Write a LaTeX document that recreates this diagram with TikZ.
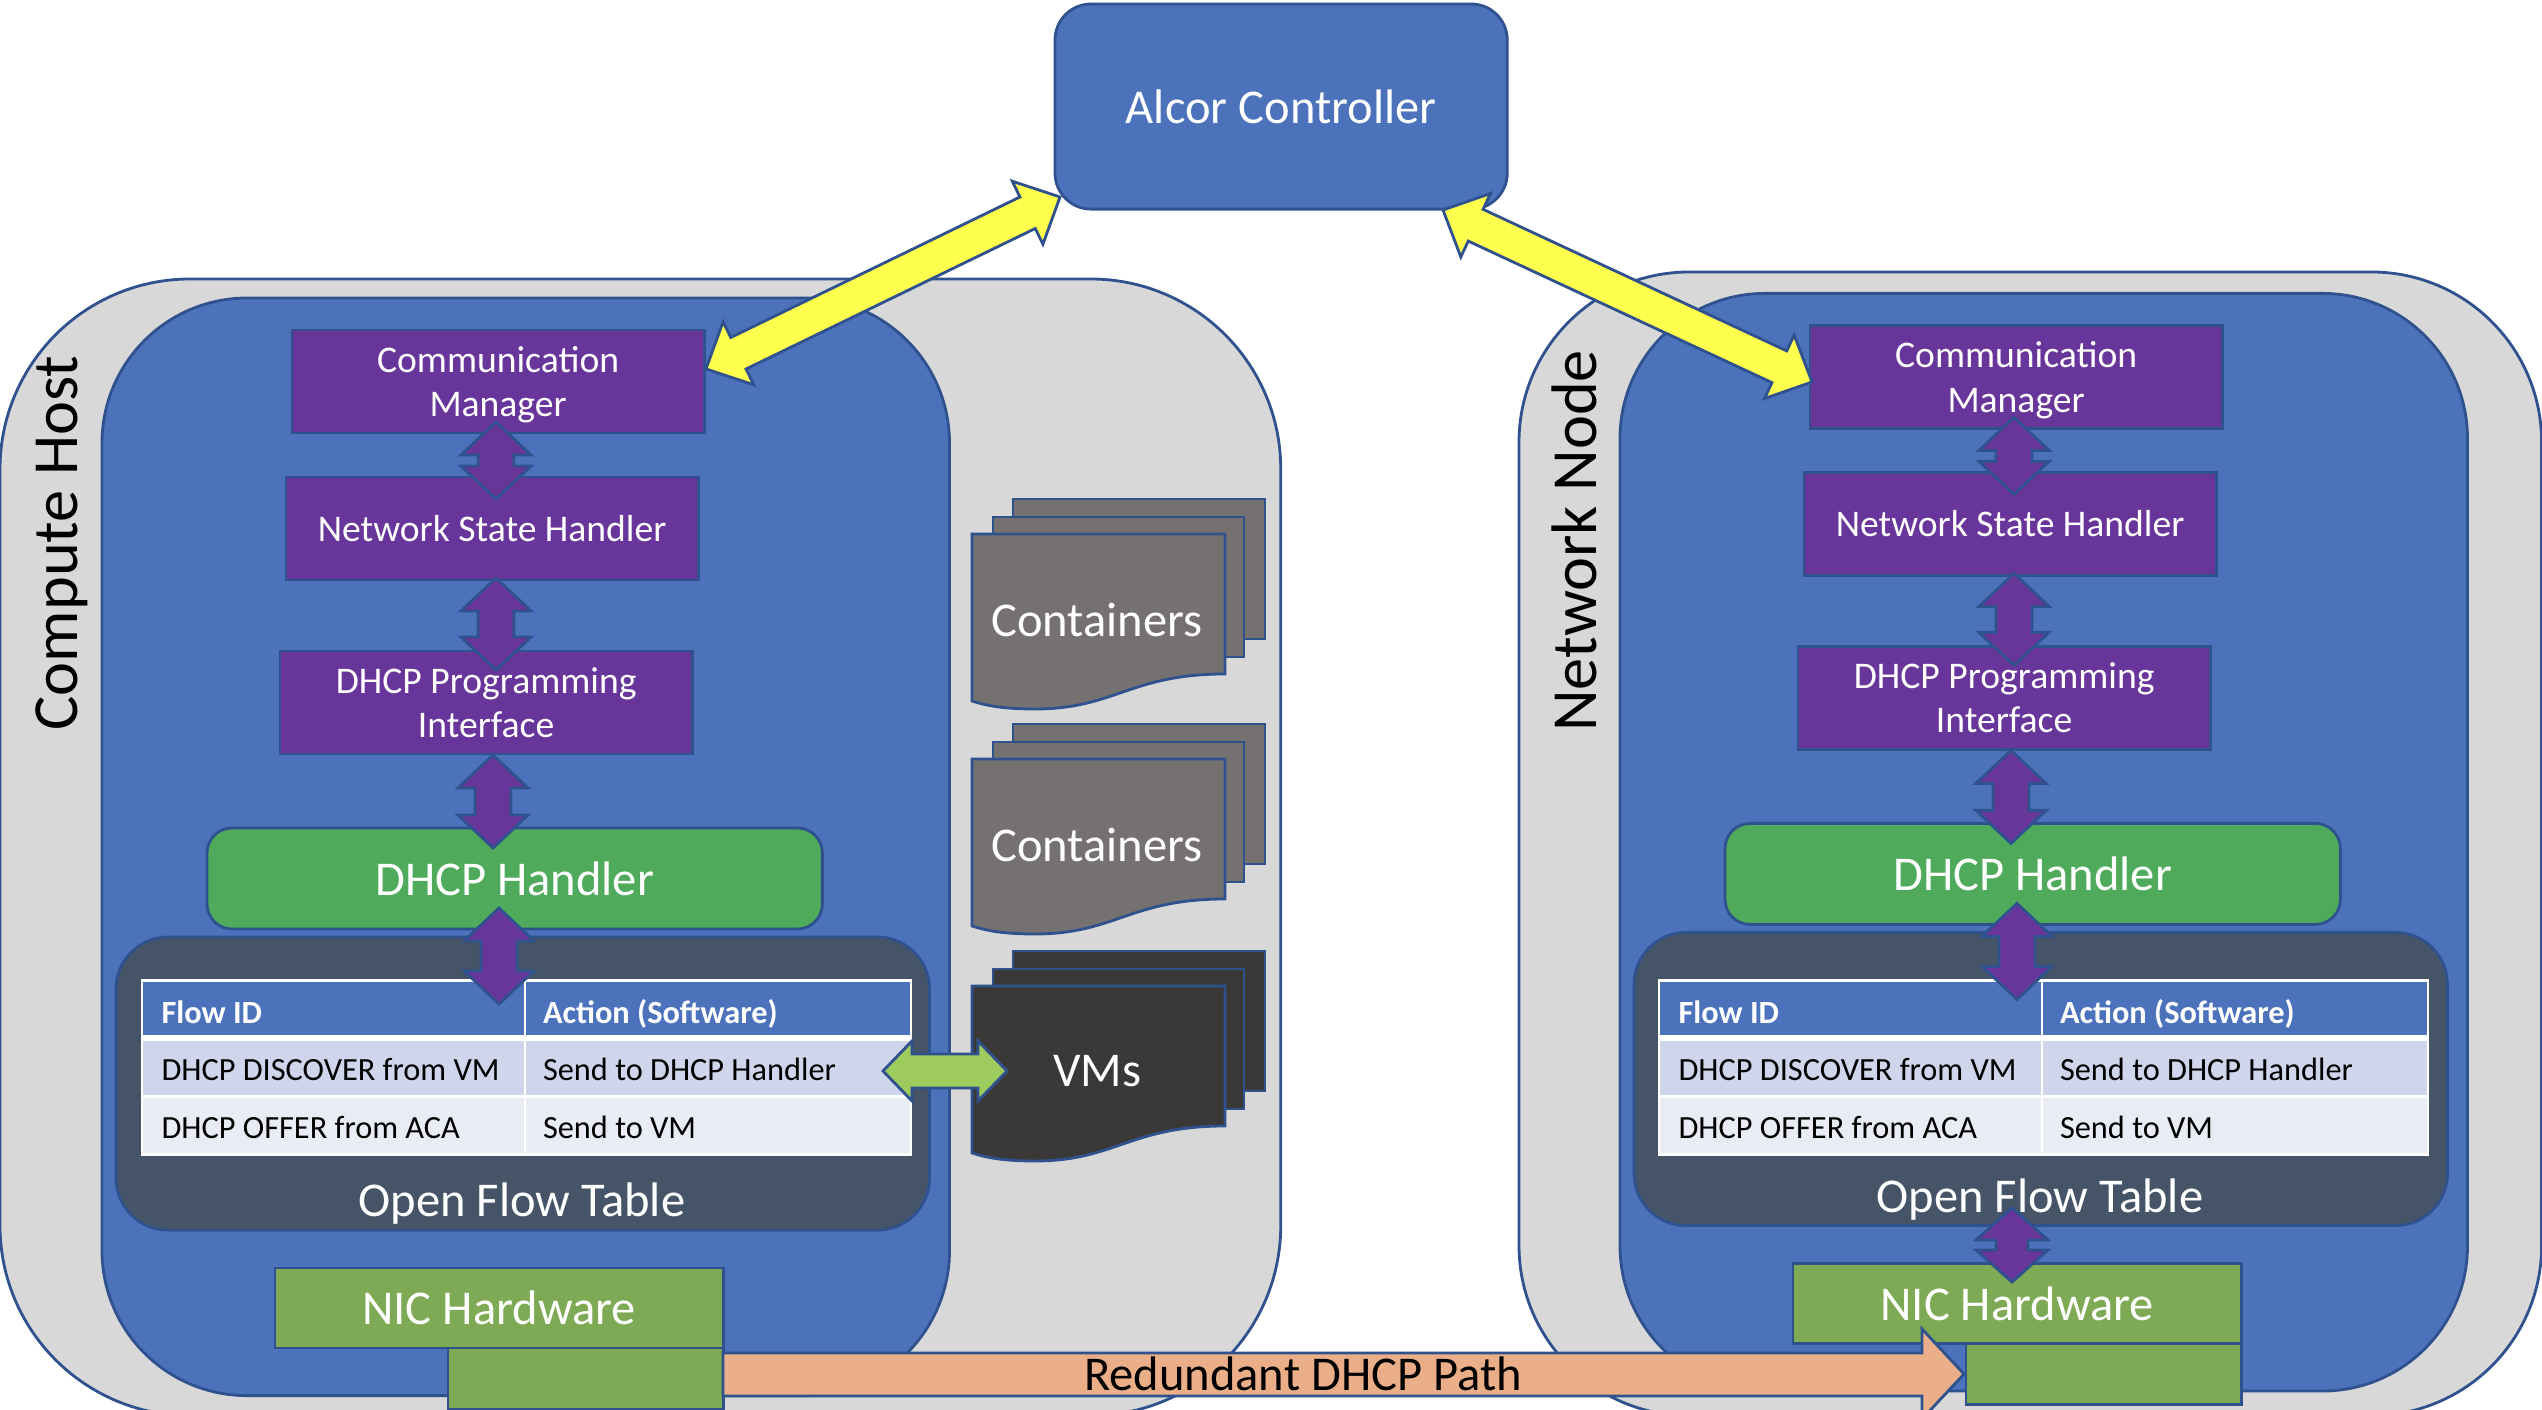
\documentclass[tikz,border=0pt]{standalone}
\usepackage{fontspec}
\setmainfont{Carlito}
\usetikzlibrary{calc}
\definecolor{edgeblue}{HTML}{2F528F}
\definecolor{hostgray}{HTML}{D8D8D8}
\definecolor{panelblue}{HTML}{4C72BC}
\definecolor{mgrpurple}{HTML}{68359A}
\definecolor{dhcpgreen}{HTML}{4FAB5B}
\definecolor{nicgreen}{HTML}{7EAA55}
\definecolor{flowdark}{HTML}{465468}
\definecolor{rowone}{HTML}{CFD5EA}
\definecolor{rowtwo}{HTML}{E9EBF5}
\definecolor{pathorange}{HTML}{EAAF88}
\definecolor{linkyellow}{HTML}{FFFF4D}
\definecolor{vmlime}{HTML}{9DCB5E}
\definecolor{docgray}{HTML}{767171}
\definecolor{vmdark}{HTML}{3B3838}
\newcommand{\bigfont}{\fontsize{13.8}{16}\selectfont}
\newcommand{\midfont}{\fontsize{10.7}{12.6}\selectfont}
\newcommand{\tabfont}{\fontsize{9.2}{11}\selectfont}
\tikzset{
  box/.style={draw=edgeblue,line width=0.8pt,inner sep=0pt,outer sep=0pt,anchor=north west,align=flush center,text=white},
  mgrbox/.style={box,fill=mgrpurple,font=\midfont,minimum width=4.12cm,minimum height=1.03cm},
  flowcell/.style={anchor=north west,inner sep=0pt,inner xsep=0.185cm,outer sep=0pt,font=\tabfont,text=black,align=flush left,
    text height=2.0ex,text depth=0.48ex},
  flowhead/.style={flowcell,fill=panelblue,text=white,font=\tabfont\bfseries,minimum height=0.53cm,text height=2.2ex,text depth=0.44ex},
  colb/.style={inner xsep=0.17cm,text width=3.5cm},
  cola/.style={text width=3.44cm},
  biglabel/.style={font=\bigfont,text=white,inner sep=0pt,outer sep=0pt},
  sidelabel/.style={font=\fontsize{18.3}{20}\selectfont,text=black,rotate=90,inner sep=0pt}
}
% px: arrow between two coordinates, colour / a / b / shaft / wing / head
\newcommand{\dblarrow}[6]{
  \draw[draw=edgeblue,line width=0.8pt,fill=#1,line join=miter] (#2)
    -- ($(#2)!#6!(#3)!#5!90:(#3)$) -- ($(#2)!#6!(#3)!#4!90:(#3)$)
    -- ($(#3)!#6!(#2)!#4!-90:(#2)$) -- ($(#3)!#6!(#2)!#5!-90:(#2)$)
    -- (#3)
    -- ($(#3)!#6!(#2)!#5!90:(#2)$) -- ($(#3)!#6!(#2)!#4!90:(#2)$)
    -- ($(#2)!#6!(#3)!#4!-90:(#3)$) -- ($(#2)!#6!(#3)!#5!-90:(#3)$) -- cycle;
}
\newcommand{\docstack}[3]{
  \begin{scope}[shift={(0,#1)},draw=edgeblue,line width=0.8pt]
    \filldraw[fill=#2] (1013,499) rectangle (1265,639);
    \filldraw[fill=#2] (993,517) rectangle (1244,657);
    \filldraw[fill=#2] (972,534) -- (1225,534) -- (1225,674)
      .. controls (1130,674) and (1115,709) .. (1035,709)
      .. controls (1010,709) and (990,707) .. (972,701) -- cycle;
    \node[biglabel] (#3) at (1097,619.5) {#3};
  \end{scope}
}

\begin{document}
\begin{tikzpicture}[x=0.01cm,y=-0.01cm]
  \path[use as bounding box] (0,0) rectangle (2542,1410);
  \clip (0,0) rectangle (2542,1410);
  \node[box,fill=hostgray,rounded corners=1.9cm,minimum width=12.80cm,minimum height=11.36cm] (cmphost) at (0,279) {};
  \node[box,fill=hostgray,rounded corners=1.7cm,minimum width=10.22cm,minimum height=11.43cm] (nethost) at (1519,272) {};
  \node[sidelabel] (cmplabel) at (62,543) {Compute Host};
  \node[sidelabel] (netlabel) at (1574,541) {Network Node};

  \foreach \p/\dx/\dy/\tx in {cmp/0/0/0, net/1518/-4.6/1517} {
    \begin{scope}[shift={(\dx,\dy)}]
      \node[box,fill=panelblue,rounded corners=1.45cm,minimum width=8.47cm,minimum height=10.97cm] (panel\p) at (102,298) {};
      \node[mgrbox] (comm\p) at (292,330) {Communication\\\smash{Manager}};
      \node[mgrbox] (state\p) at (286,477) {Network State Handler};
      \node[mgrbox] (prog\p) at (280,651) {DHCP Programming\\Interface};
      \node[box,fill=dhcpgreen,font=\bigfont,rounded corners=0.25cm,minimum width=6.15cm,minimum height=1.01cm] (dhcp\p) at (207,828) {DHCP Handler};
      \node[box,fill=flowdark,rounded corners=0.52cm,minimum width=8.13cm,minimum height=2.93cm] (flow\p) at (116,937) {};
      \node[biglabel] (flowlabel\p) at (522,1204) {Open Flow Table};
      \node[box,fill=nicgreen,font=\bigfont,minimum width=4.48cm,minimum height=0.80cm] (nic\p) at (275,1268) {NIC Hardware};
      \node[box,fill=nicgreen,minimum width=2.75cm,minimum height=0.61cm] (port\p) at (448,1348) {};
    \end{scope}
    \begin{scope}[shift={(\tx,0)}]
      \node[fill=white,inner sep=0pt,outer sep=0pt,anchor=north west,minimum width=7.71cm,minimum height=1.77cm] (table\p) at (141,979) {};
      \node[flowhead,cola] (hdra\p) at (143,982) {Flow ID};
      \node[flowhead,colb] (hdrb\p) at (526,982) {Action (Software)};
      \node[flowcell,fill=rowone,minimum height=0.54cm,cola] (rowa\p) at (143,1041) {DHCP DISCOVER from VM};
      \node[flowcell,fill=rowone,minimum height=0.54cm,colb] (rowb\p) at (526,1041) {Send to DHCP Handler};
      \node[flowcell,fill=rowtwo,minimum height=0.55cm,cola] (rowc\p) at (143,1098) {DHCP OFFER from ACA};
      \node[flowcell,fill=rowtwo,minimum height=0.55cm,colb] (rowd\p) at (526,1098) {Send to VM};
    \end{scope}
    \begin{scope}[shift={(\dx,\dy)}]
      \foreach \n/\xa/\ya/\yb in {a/496/422/499, b/496/578/670, c/493/755/848, d/499/908/1004} {
        \coordinate (up\n\p) at (\xa,\ya);
        \coordinate (dn\n\p) at (\xa,\yb);
        \dblarrow{mgrpurple}{up\n\p}{dn\n\p}{0.18cm}{0.35cm}{0.33cm}
      }
    \end{scope}
  }

  \docstack{0}{docgray}{Containers}
  \docstack{225}{docgray}{Containers}
  \docstack{452}{vmdark}{VMs}

  \coordinate (vmsrc) at (883,1071);
  \coordinate (vmdst) at (1007,1071);
  \dblarrow{vmlime}{vmsrc}{vmdst}{0.17cm}{0.30cm}{0.29cm}

  \coordinate (nicup) at (2012,1208);
  \coordinate (nicdn) at (2012,1282);
  \dblarrow{mgrpurple}{nicup}{nicdn}{0.16cm}{0.36cm}{0.32cm}

  \draw[draw=edgeblue,line width=0.8pt,fill=pathorange] (723,1353) -- (1922,1353) -- (1922,1329)
    -- (1964,1374) -- (1922,1419) -- (1922,1396) -- (723,1396) -- cycle;
  \node[font=\bigfont,text=black,inner sep=0pt] (pathlabel) at (1303,1374) {Redundant DHCP Path};

  \node[box,fill=panelblue,font=\bigfont,rounded corners=0.36cm,minimum width=4.52cm,minimum height=2.05cm] (alcor) at (1055,4) {Alcor Controller};
  \coordinate (alcorl) at (1060,197);
  \coordinate (alcorr) at (1443,210);
  \coordinate (commcmpe) at (706,369);
  \coordinate (commnetw) at (1812,382);
  \dblarrow{linkyellow}{alcorl}{commcmpe}{0.175cm}{0.35cm}{0.36cm}
  \dblarrow{linkyellow}{alcorr}{commnetw}{0.175cm}{0.35cm}{0.36cm}
\end{tikzpicture}
\end{document}
